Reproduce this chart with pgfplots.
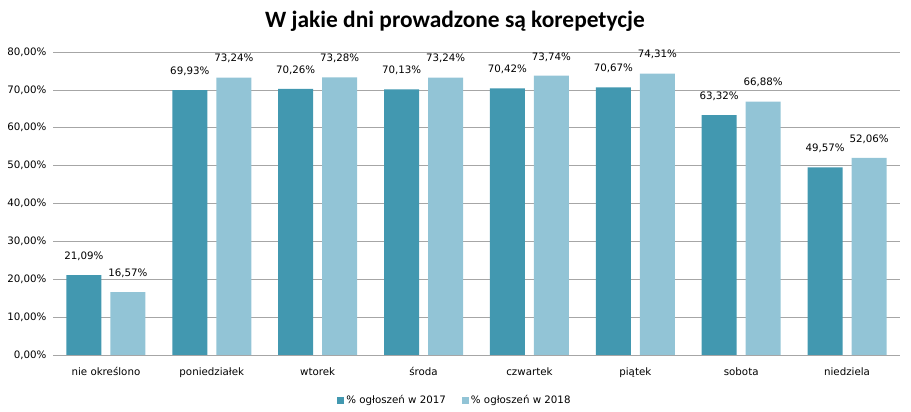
\documentclass[border=0pt]{standalone}
\usepackage{pgfplots}
\pgfplotsset{compat=1.18}
\usepackage{fontspec}
\setmainfont{DejaVu Sans}
\newfontfamily\titlefont{Carlito}
\definecolor{cA}{HTML}{4298B0}
\definecolor{cB}{HTML}{92C4D6}
\begin{document}
\begin{tikzpicture}
\path[use as bounding box] (0,0) rectangle (911bp,412bp);
\node[font=\titlefont\bfseries\fontsize{23.5}{26}\selectfont] at (455bp,391bp) {W jakie dni prowadzone są korepetycje};
\begin{axis}[
  at={(53bp,57bp)}, anchor=south west,
  scale only axis, width=847bp, height=303bp,
  ybar, bar width=35bp,
  xmin=-0.5, xmax=7.5, ymin=0, ymax=80,
  ytick={0,10,...,80},
  yticklabel={\pgfmathprintnumber[fixed,fixed zerofill,precision=2,use comma]{\tick}\%},
  /pgf/number format/assume math mode=true,
  xtick={0,...,7},
  xticklabels={nie określono,poniedziałek,wtorek,środa,czwartek,piątek,sobota,niedziela},
  ticklabel style={font=\fontsize{10.3}{12}\selectfont},
  major tick length=0pt,
  axis x line*=bottom, axis y line*=left,
  x axis line style={draw=gray!70, -},
  y axis line style={draw=none},
  ymajorgrids, grid style={draw=gray!70, line width=0.6pt},
  yticklabel style={xshift=-3bp},
  xticklabel style={yshift=-9bp},
  nodes near coords={\pgfmathprintnumber[fixed,fixed zerofill,precision=2,use comma]{\pgfplotspointmeta}\%},
  every node near coord/.append style={font=\fontsize{10.3}{12}\selectfont, yshift=11bp},
  legend style={at={(0.4746,-0.12)}, anchor=north, draw=none, legend columns=2,
     font=\fontsize{10.3}{12}\selectfont, /tikz/every even column/.append style={column sep=14bp}},
  legend image code/.code={\fill[#1] (0bp,-3.5bp) rectangle (7bp,3.5bp);},
]
\addplot[fill=cA, draw=none, bar shift=-22bp] coordinates {(0,21.09) (1,69.93) (2,70.26) (3,70.13) (4,70.42) (5,70.67) (6,63.32) (7,49.57)};
\addplot[fill=cB, draw=none, bar shift=22bp] coordinates {(0,16.57) (1,73.24) (2,73.28) (3,73.24) (4,73.74) (5,74.31) (6,66.88) (7,52.06)};
\legend{\% ogłoszeń w 2017,\% ogłoszeń w 2018}
\end{axis}
\end{tikzpicture}
\end{document}
